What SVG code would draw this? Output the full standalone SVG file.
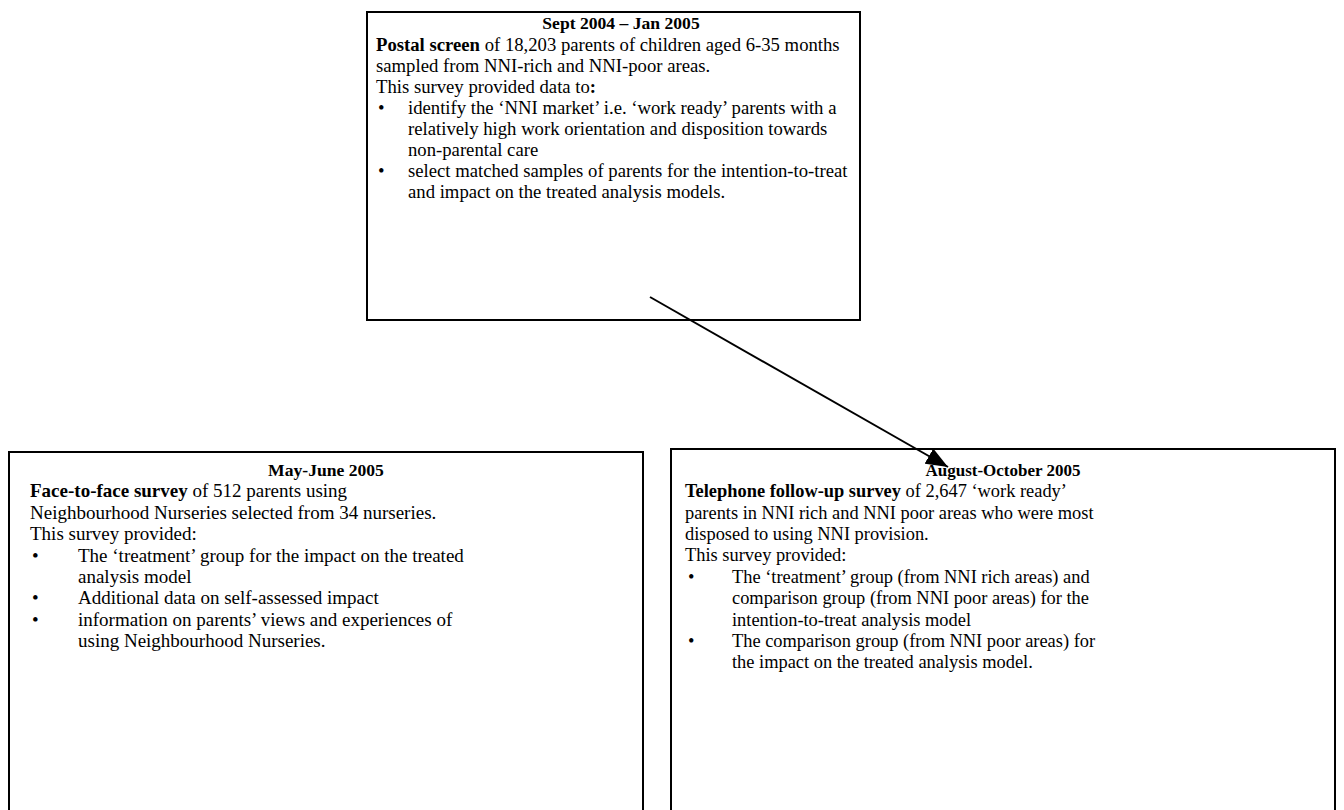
<svg xmlns="http://www.w3.org/2000/svg" width="1344" height="810" viewBox="0 0 1344 810">
<style>
.box{fill:#fff;stroke:#000;stroke-width:2}
text{font-family:"Liberation Serif","Times New Roman",serif;font-size:19px;fill:#000}
.p text{font-size:18.7px}
.r text{font-size:18.4px}
.b{font-weight:bold}
.t{font-weight:bold;text-anchor:middle}
.p .t,.l .t{font-size:17.6px}
.r .t{font-size:17px}
.conn{stroke:#000;stroke-width:2;fill:none}
</style>
<defs>
<marker id="ah2" viewBox="0 0 20 16" refX="20" refY="8" markerWidth="22" markerHeight="18" markerUnits="userSpaceOnUse" orient="auto">
<path d="M0,0 L20,8 L0,16 z" fill="#000"/>
</marker>
</defs>
<rect width="1344" height="810" fill="#fff"/>
<g id="node-postal" class="p">
<rect class="box" x="367" y="12" width="493" height="308"/>
<text class="t" x="621" y="29">Sept 2004 – Jan 2005</text>
<text x="376" y="51"><tspan class="b">Postal screen</tspan> of 18,203 parents of children aged 6-35 months</text>
<text x="376" y="72">sampled from NNI-rich and NNI-poor areas.</text>
<text x="376" y="93">This survey provided data to<tspan class="b">:</tspan></text>
<text x="378" y="114">•</text>
<text x="408" y="114">identify the ‘NNI market’ i.e. ‘work ready’ parents with a</text>
<text x="408" y="135">relatively high work orientation and disposition towards</text>
<text x="408" y="156">non-parental care</text>
<text x="378" y="177">•</text>
<text x="408" y="177">select matched samples of parents for the intention-to-treat</text>
<text x="408" y="198">and impact on the treated analysis models.</text>
</g>
<g id="node-facetoface" class="l">
<rect class="box" x="9" y="452" width="634" height="370"/>
<text class="t" x="326" y="476">May-June 2005</text>
<text x="30" y="497"><tspan class="b">Face-to-face survey</tspan> of 512 parents using</text>
<text x="30" y="519">Neighbourhood Nurseries selected from 34 nurseries.</text>
<text x="30" y="540">This survey provided:</text>
<text x="32" y="562">•</text>
<text x="78" y="562">The ‘treatment’ group for the impact on the treated</text>
<text x="78" y="583">analysis model</text>
<text x="32" y="604">•</text>
<text x="78" y="604">Additional data on self-assessed impact</text>
<text x="32" y="626">•</text>
<text x="78" y="626">information on parents’ views and experiences of</text>
<text x="78" y="647">using Neighbourhood Nurseries.</text>
</g>
<g id="node-telephone" class="r">
<rect class="box" x="671" y="449" width="664" height="373"/>
<text class="t" x="1003" y="476">August-October 2005</text>
<text x="685" y="497"><tspan class="b">Telephone follow-up survey</tspan> of 2,647 ‘work ready’</text>
<text x="685" y="519">parents in NNI rich and NNI poor areas who were most</text>
<text x="685" y="540">disposed to using NNI provision.</text>
<text x="685" y="561">This survey provided:</text>
<text x="688" y="583">•</text>
<text x="732" y="583">The ‘treatment’ group (from NNI rich areas) and</text>
<text x="732" y="604">comparison group (from NNI poor areas) for the</text>
<text x="732" y="626">intention-to-treat analysis model</text>
<text x="688" y="647">•</text>
<text x="732" y="647">The comparison group (from NNI poor areas) for</text>
<text x="732" y="668">the impact on the treated analysis model.</text>
</g>
<g id="connectors">
<line class="conn" x1="650" y1="297" x2="948" y2="467" marker-end="url(#ah2)"/>
</g>
</svg>
